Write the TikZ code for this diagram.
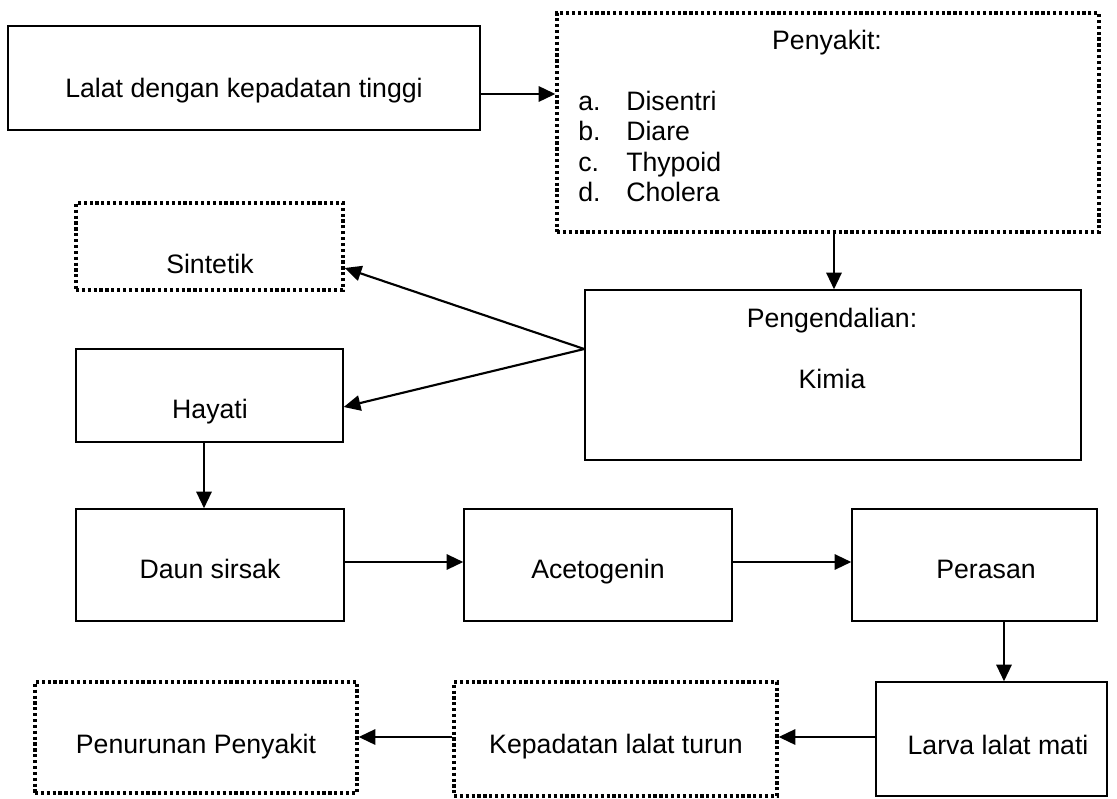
\documentclass[tikz,border=0pt]{standalone}
\usepackage{fontspec}
\setmainfont{Liberation Sans}
\usetikzlibrary{fit,arrows.meta}
\begin{document}
\begin{tikzpicture}[x=0.75pt,y=-0.75pt,
  solidbox/.style={draw, line width=1.1pt, inner sep=0pt, fit={#1}},
  dotbox/.style={draw, line width=2.5pt, dash pattern=on 2.4pt off 2pt, inner sep=0pt, fit={#1}},
  lbl/.style={anchor=base, inner sep=0pt, font=\fontsize{20}{22.9}\selectfont},
  arr/.style={line width=1.6pt, -{Triangle[length=12.5pt,width=11.5pt]}}]
\useasboundingbox (0,0) rectangle (1117,799);
% boxes
\node[solidbox={(8,26)(480,130)}] (lalat) {};
\node[dotbox={(557,13)(1099,232)}] (penyakit) {};
\node[dotbox={(76,203)(343,290)}] (sintetik) {};
\node[solidbox={(76,349)(343,442)}] (hayati) {};
\node[solidbox={(585,290)(1081,460)}] (kimia) {};
\node[solidbox={(76,509)(344,621)}] (daun) {};
\node[solidbox={(464,509)(732,621)}] (aceto) {};
\node[solidbox={(852,509)(1097,621)}] (perasan) {};
\node[dotbox={(35,682)(357,793)}] (penurunan) {};
\node[dotbox={(454,682)(777,796)}] (kepadatan) {};
\node[solidbox={(876,682)(1107,796)}] (larva) {};
% texts
\node[lbl] (lalat-t) at (244,98) {Lalat dengan kepadatan tinggi};
\node[lbl] (penyakit-t) at (827,50) {Penyakit:};
\node[lbl, anchor=base west] (penyakit-list) at (578,110)
  {\begin{tabular}[t]{@{}p{36pt}@{}l@{}}a.&Disentri\\b.&Diare\\c.&Thypoid\\d.&Cholera\end{tabular}};
\node[lbl] (sintetik-t) at (210,273) {Sintetik};
\node[lbl] (hayati-t) at (210,418) {Hayati};
\node[lbl] (kimia-t1) at (832,327) {Pengendalian:};
\node[lbl] (kimia-t2) at (832,388) {Kimia};
\node[lbl] (daun-t) at (210,578) {Daun sirsak};
\node[lbl] (aceto-t) at (598,578) {Acetogenin};
\node[lbl] (perasan-t) at (986,578) {Perasan};
\node[lbl] (penurunan-t) at (196,753) {Penurunan Penyakit};
\node[lbl] (kepadatan-t) at (616,753) {Kepadatan lalat turun};
\node[lbl] (larva-t) at (998,754) {Larva lalat mati};
% connectors
\draw[arr] (lalat.east |- 0,94) -- (penyakit.west |- 0,94);
\draw[arr] (penyakit.south -| 834,0) -- (kimia.north -| 834,0);
\draw[arr] (kimia.west |- 0,349) -- (sintetik.east |- 0,268);
\draw[arr] (kimia.west |- 0,349) -- (hayati.east |- 0,407);
\draw[arr] (hayati.south -| 204,0) -- (daun.north -| 204,0);
\draw[arr] (daun.east |- 0,562) -- (aceto.west |- 0,562);
\draw[arr] (aceto.east |- 0,562) -- (perasan.west |- 0,562);
\draw[arr] (perasan.south -| 1004,0) -- (larva.north -| 1004,0);
\draw[arr] (larva.west |- 0,737) -- (kepadatan.east |- 0,737);
\draw[arr] (kepadatan.west |- 0,737) -- (penurunan.east |- 0,737);
\end{tikzpicture}
\end{document}
